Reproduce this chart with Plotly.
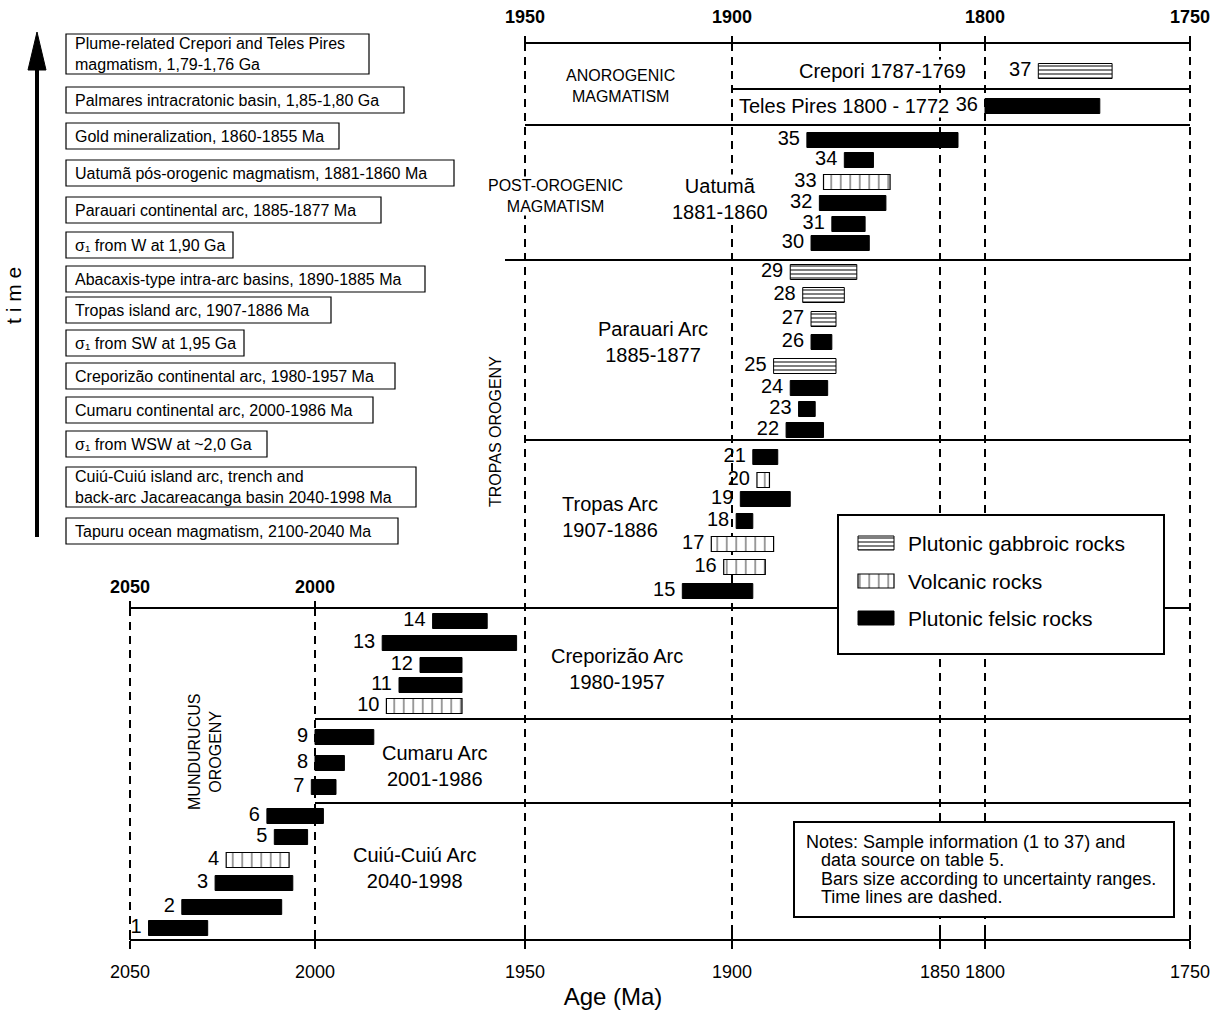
import numpy as np
import plotly.graph_objects as go

# ---------------- data ----------------
SAMPLE_ID = list(range(1, 38))
AGE_OLD = [2045, 2036, 2027, 2024, 2011, 2013, 2001, 2000, 2000, 1983,
           1980, 1975, 1984, 1972, 1912, 1902, 1905, 1899, 1898, 1894,
           1895, 1887, 1884, 1886, 1890, 1881, 1881, 1883, 1886, 1881,
           1876, 1879, 1878, 1873, 1882, 1800, 1787]
AGE_YOUNG = [2029, 2009, 2006, 2007, 2002, 1998, 1995, 1993, 1986, 1965,
             1965, 1965, 1952, 1959, 1895, 1892, 1890, 1895, 1886, 1891,
             1889, 1878, 1880, 1877, 1875, 1876, 1875, 1873, 1870, 1867,
             1868, 1863, 1862, 1866, 1830, 1772, 1769]
# G = plutonic gabbroic, V = volcanic, F = plutonic felsic
ROCK_TYPE = ["F", "F", "F", "V", "F", "F", "F", "F", "F", "V",
             "F", "F", "F", "F", "F", "V", "V", "F", "F", "V",
             "F", "F", "F", "F", "G", "F", "G", "G", "G", "F",
             "F", "F", "V", "F", "F", "F", "G"]
ROCK_NAME = {"G": "Plutonic gabbroic rocks", "V": "Volcanic rocks", "F": "Plutonic felsic rocks"}

AXIS_AGES = [2050, 2000, 1950, 1900, 1850, 1800, 1750]
TOP_TICK_AGES = [1950, 1900, 1800, 1750]
MID_TICK_AGES = [2050, 2000]

PANEL_TEXT = [
    "Plume-related Crepori and Teles Pires<br>magmatism, 1,79-1,76 Ga",
    "Palmares intracratonic basin, 1,85-1,80 Ga",
    "Gold mineralization, 1860-1855 Ma",
    "Uatumã pós-orogenic magmatism, 1881-1860 Ma",
    "Parauari continental arc, 1885-1877 Ma",
    "σ₁ from W at 1,90 Ga",
    "Abacaxis-type intra-arc basins, 1890-1885 Ma",
    "Tropas island arc, 1907-1886 Ma",
    "σ₁ from SW at 1,95 Ga",
    "Creporizão continental arc, 1980-1957 Ma",
    "Cumaru continental arc, 2000-1986 Ma",
    "σ₁ from WSW at ~2,0 Ga",
    "Cuiú-Cuiú island arc, trench and<br>back-arc Jacareacanga basin 2040-1998 Ma",
    "Tapuru ocean magmatism, 2100-2040 Ma",
]
NOTES = ["Notes: Sample information (1 to 37) and",
         "data source on table 5.",
         "Bars size according to uncertainty ranges.",
         "Time lines are dashed."]

# ---------------- layout constants ----------------
W, H = 1226, 1017
AXIS_POS = [130, 315, 525, 732, 940, 985, 1190]   # broken age scale anchors
ROW_Y = [928, 907, 883, 860, 837, 816, 787, 763, 737, 706,
         685, 665, 643, 621, 591, 567, 544, 521, 499, 480,
         457, 430, 409, 388, 366, 342, 319, 295, 272, 243,
         224, 203, 182, 160, 140, 106, 71]
BAR_H = 15
PANEL_RIGHT = [369, 404, 339, 454, 381, 233, 425, 331, 244, 395, 373, 267, 416, 398]
PANEL_YC = [54, 100, 136, 173, 210, 245, 279, 310, 343, 376, 410, 444, 487, 531]
PANEL_LEFT = 66
Y_TOP, Y_ANO, Y_POST, Y_MID1, Y_TROPAS, Y_MID, Y_CUM, Y_CUI, Y_BOT = 43, 89, 125, 260, 440, 608, 719, 803, 940
LEG_BOX = (838, 515, 1164, 654)
LEG_ROWS = [543, 581, 618]
NOTE_BOX = (794, 822, 1174, 917)

FONT = "Liberation Sans, Arial, sans-serif"

STYLE = {
    "F": dict(color="black", line=dict(color="black", width=1)),
    "G": dict(color="white", line=dict(color="black", width=1),
              pattern=dict(shape="-", size=4, solidity=0.5, fgcolor="black", bgcolor="white")),
    "V": dict(color="white", line=dict(color="black", width=1.2),
              pattern=dict(shape="|", size=9.5, solidity=0.16, fgcolor="black", bgcolor="white")),
}


def X(age):
    """Broken age axis: map age (Ma) onto the drawing scale."""
    return np.interp(-np.asarray(age, dtype=float), -np.array(AXIS_AGES, dtype=float), AXIS_POS)


fig = go.Figure()

old = np.array(AGE_OLD)
young = np.array(AGE_YOUNG)
rt = np.array(ROCK_TYPE)
ids = np.array(SAMPLE_ID)
rows = np.array(ROW_Y)

for key in ["F", "G", "V"]:
    m = rt == key
    fig.add_trace(go.Bar(
        orientation="h", y=rows[m], base=X(old[m]), x=X(young[m]) - X(old[m]),
        width=BAR_H, marker=STYLE[key], name=ROCK_NAME[key],
        customdata=np.stack([ids[m], old[m], young[m]], axis=1),
        hovertemplate="Sample %{customdata[0]}: %{customdata[1]}-%{customdata[2]} Ma<extra></extra>",
        showlegend=False))

# sample numbers
fig.add_trace(go.Scatter(
    x=X(old) - 7, y=rows, mode="text", text=[str(i) for i in ids],
    textposition="middle left", textfont=dict(family=FONT, size=20, color="black"),
    hoverinfo="skip", showlegend=False))

# legend swatches (drawn inside custom legend box)
sw_x0 = LEG_BOX[0] + 20
for key, yy in zip(["G", "V", "F"], LEG_ROWS):
    fig.add_trace(go.Bar(orientation="h", y=[yy], base=[sw_x0], x=[36], width=14,
                         marker=STYLE[key], hoverinfo="skip", showlegend=False))

# dummy traces so the extra axes render
fig.add_trace(go.Scatter(x=[None], y=[None], xaxis="x2", yaxis="y", showlegend=False, hoverinfo="skip"))
fig.add_trace(go.Scatter(x=[None], y=[None], xaxis="x3", yaxis="y", showlegend=False, hoverinfo="skip"))

shapes = []


def hline(y, a0, a1, w=2):
    shapes.append(dict(type="line", xref="x", yref="y", x0=float(X(a0)), x1=float(X(a1)), y0=y, y1=y,
                       line=dict(color="black", width=w), layer="below"))


hline(Y_TOP, 1950, 1750)
hline(Y_ANO, 1900, 1750)
hline(Y_POST, 1950, 1750)
shapes.append(dict(type="line", xref="x", yref="y", x0=505, x1=float(X(1750)), y0=Y_MID1, y1=Y_MID1,
                   line=dict(color="black", width=2), layer="below"))
hline(Y_TROPAS, 1950, 1750)
hline(Y_MID, 2050, 1750)
hline(Y_CUM, 2000, 1750)
hline(Y_CUI, 2000, 1750)
hline(Y_BOT, 2050, 1750)

# dashed time lines
for a in [1950, 1900, 1850, 1800, 1750]:
    shapes.append(dict(type="line", xref="x", yref="y", x0=float(X(a)), x1=float(X(a)), y0=Y_TOP, y1=Y_BOT,
                       line=dict(color="black", width=2, dash="8px,6px"), layer="below"))
for a in [2050, 2000]:
    shapes.append(dict(type="line", xref="x", yref="y", x0=float(X(a)), x1=float(X(a)), y0=Y_MID, y1=Y_BOT,
                       line=dict(color="black", width=2, dash="8px,6px"), layer="below"))
# small upward tick marks crossing the bottom axis line
for a in AXIS_AGES:
    shapes.append(dict(type="line", xref="x", yref="y", x0=float(X(a)), x1=float(X(a)), y0=Y_BOT - 8, y1=Y_BOT,
                       line=dict(color="black", width=2), layer="below"))

# legend and notes boxes (white, covering the lines)
shapes.append(dict(type="rect", xref="x", yref="y", x0=LEG_BOX[0], y0=LEG_BOX[1], x1=LEG_BOX[2], y1=LEG_BOX[3],
                   line=dict(color="black", width=2), fillcolor="white", layer="below"))
shapes.append(dict(type="rect", xref="x", yref="y", x0=NOTE_BOX[0], y0=NOTE_BOX[1], x1=NOTE_BOX[2], y1=NOTE_BOX[3],
                   line=dict(color="black", width=2), fillcolor="white", layer="below"))

# left panel boxes
annotations = []
for txt, xr, yc in zip(PANEL_TEXT, PANEL_RIGHT, PANEL_YC):
    h = 40 if "<br>" in txt else 26
    shapes.append(dict(type="rect", xref="x", yref="y", x0=PANEL_LEFT, x1=xr, y0=yc - h / 2, y1=yc + h / 2,
                       line=dict(color="black", width=1.2), fillcolor="white", layer="below"))
    annotations.append(dict(x=PANEL_LEFT + 7, y=yc, xref="x", yref="y", text=txt, showarrow=False,
                            xanchor="left", yanchor="middle", align="left",
                            font=dict(family=FONT, size=16, color="black")))

# time arrow
shapes.append(dict(type="line", xref="x", yref="y", x0=37, x1=37, y0=537, y1=62,
                   line=dict(color="black", width=4), layer="below"))
shapes.append(dict(type="path", xref="x", yref="y", path="M 28,70 L 37,32 L 46,70 Z",
                   fillcolor="black", line=dict(color="black", width=1), layer="below"))


def label(text, x, y, size=20, xanchor="center", angle=0, align="center", bg=None):
    a = dict(x=x, y=y, xref="x", yref="y", text=text, showarrow=False, textangle=angle,
             xanchor=xanchor, yanchor="middle", align=align,
             font=dict(family=FONT, size=size, color="black"))
    if bg:
        a.update(bgcolor=bg, borderpad=0)
    annotations.append(a)


label("Crepori 1787-1769", 882, 71, bg="white")
label("Teles Pires 1800 - 1772", 738, 106, xanchor="left", bg="white")
label("ANOROGENIC<br>MAGMATISM", 620, 86, size=16, bg="white")
label("POST-OROGENIC<br>MAGMATISM", 555, 196, size=16, bg="white")
label("Uatumã<br>1881-1860", 720, 199, bg="white")
label("Parauari Arc<br>1885-1877", 653, 342)
label("Tropas Arc<br>1907-1886", 610, 517)
label("Creporizão Arc<br>1980-1957", 617, 669)
label("Cumaru Arc<br>2001-1986", 435, 766)
label("Cuiú-Cuiú Arc<br>2040-1998", 414, 868)
label("TROPAS OROGENY", 495, 432, size=16, angle=-90)
label("MUNDURUCUS<br>OROGENY", 205, 752, size=16, angle=-90)
label("t i m e", 13, 296, size=21, angle=-90)

# legend text
for key, yy in zip(["G", "V", "F"], LEG_ROWS):
    label(ROCK_NAME[key], sw_x0 + 48, yy, size=21, xanchor="left")

# notes
note_y = [842, 860, 879, 897]
for i, (t, yy) in enumerate(zip(NOTES, note_y)):
    label(t, NOTE_BOX[0] + (10 if i == 0 else 25), yy, size=18, xanchor="left")

axis_common = dict(range=[0, W], showgrid=False, zeroline=False, showline=False, automargin=False,
                   ticks="outside", tickcolor="black", tickwidth=2, tickangle=0)

fig.update_layout(
    width=W, height=H, margin=dict(l=0, r=0, t=0, b=0, autoexpand=False),
    plot_bgcolor="white", paper_bgcolor="white", showlegend=False, barmode="overlay",
    xaxis=dict(**axis_common, anchor="free", position=(H - Y_BOT) / H,
               tickvals=X(AXIS_AGES).tolist(), ticktext=[str(a) for a in AXIS_AGES], ticklen=8,
               tickfont=dict(family=FONT, size=18, color="black"), ticklabelstandoff=7,
               title=dict(text="Age (Ma)", font=dict(family=FONT, size=24, color="black"), standoff=7)),
    xaxis2=dict(**axis_common, overlaying="x", side="top", anchor="free", position=(H - Y_TOP) / H,
                tickvals=X(TOP_TICK_AGES).tolist(), ticktext=[str(a) for a in TOP_TICK_AGES], ticklen=7,
                ticklabelstandoff=6,
                tickfont=dict(family=FONT, size=18, color="black", weight="bold")),
    xaxis3=dict(**axis_common, overlaying="x", side="top", anchor="free", position=(H - Y_MID) / H,
                tickvals=X(MID_TICK_AGES).tolist(), ticktext=[str(a) for a in MID_TICK_AGES], ticklen=7,
                ticklabelstandoff=1,
                tickfont=dict(family=FONT, size=18, color="black", weight="bold")),
    yaxis=dict(range=[H, 0], visible=False, fixedrange=True, automargin=False),
    shapes=shapes, annotations=annotations,
)

fig.write_html("out.html")
